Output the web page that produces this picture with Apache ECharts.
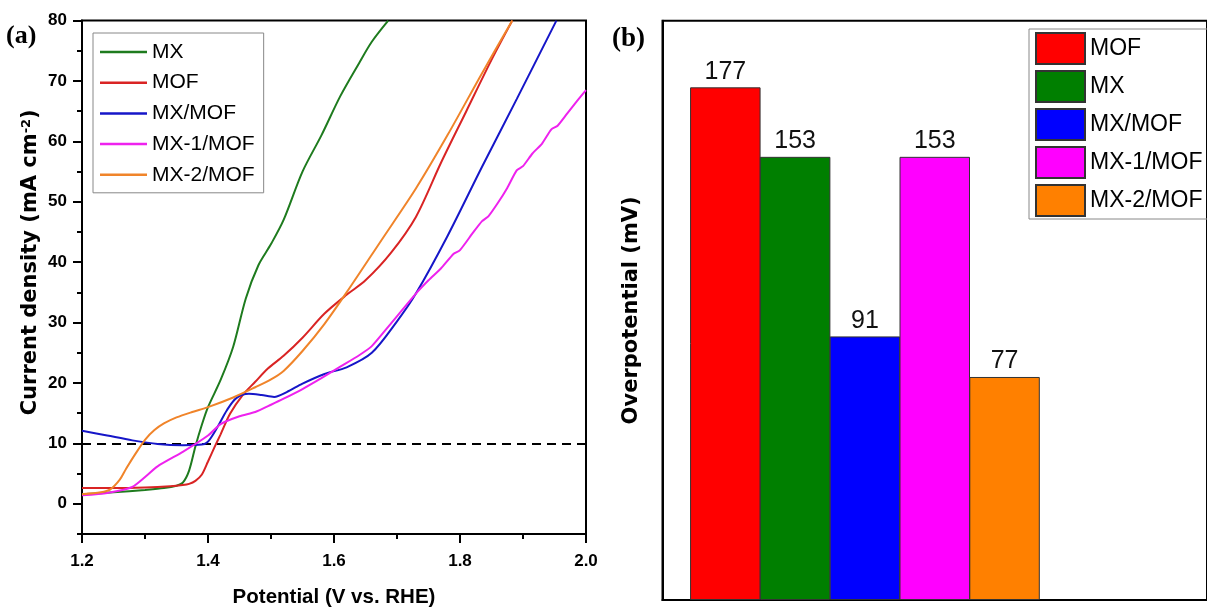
<!DOCTYPE html>
<html>
<head>
<meta charset="utf-8">
<script src="https://cdn.jsdelivr.net/npm/echarts@6/dist/echarts.min.js"></script>
<style>
html,body{margin:0;padding:0;background:#fff;}
#chart{width:1207px;height:613px;}
</style>
</head>
<body>
<div id="chart"></div>
<script>
// ---------- Panel (a): LSV curves ----------
const lineNames = ['MX', 'MOF', 'MX/MOF', 'MX-1/MOF', 'MX-2/MOF'];

const mxV  = [1.20,1.25,1.30,1.33,1.35,1.36,1.37,1.38,1.39,1.40,1.42,1.44,1.46,1.48,1.50,1.52,1.55,1.58,1.61,1.64,1.66,1.686];
const mxJ  = [1.6,1.9,2.3,2.6,3.0,3.5,5.5,9.5,13,16,20.5,26,34,39.5,43,47,55,61,67.5,73,76.5,80];

const mofV = [1.20,1.25,1.30,1.34,1.36,1.37,1.38,1.39,1.40,1.41,1.42,1.435,1.455,1.475,1.495,1.52,1.55,1.585,1.62,1.65,1.69,1.73,1.77,1.81,1.85,1.883];
const mofJ = [2.6,2.6,2.7,2.9,3.1,3.3,3.8,4.8,7.0,9.3,11.5,14.9,18.0,20.2,22.4,24.5,27.5,31.5,34.6,37,41.5,47.5,56.5,65,73.5,80];

const mxMofV = [1.20,1.24,1.28,1.32,1.36,1.39,1.40,1.415,1.43,1.445,1.465,1.485,1.505,1.525,1.55,1.585,1.62,1.66,1.70,1.73,1.78,1.835,1.89,1.953];
const mxMofJ = [12.1,11.3,10.5,9.9,9.7,9.8,10.3,12.7,15.5,17.5,18.2,18.0,17.7,18.5,19.9,21.5,22.6,25,30.2,34.8,44.3,55.8,67,80];

const mx1V = [1.20,1.24,1.28,1.32,1.36,1.40,1.42,1.45,1.475,1.50,1.52,1.55,1.58,1.61,1.64,1.66,1.69,1.73,1.75,1.77,1.79,1.80,1.82,1.835,1.845,1.86,1.875,1.89,1.90,1.915,1.93,1.945,1.955,1.97,1.985,2.0];
const mx1J = [1.4,1.8,2.8,6.2,8.6,11.3,13.2,14.5,15.2,16.4,17.4,19,20.8,22.7,24.6,26.1,29.8,34.8,37.0,39.0,41.4,42.0,44.8,46.8,47.6,49.8,52.3,55.2,55.9,58.0,59.6,62.0,62.6,64.6,66.6,68.5];

const mx2V = [1.20,1.23,1.245,1.26,1.27,1.285,1.30,1.315,1.33,1.35,1.375,1.40,1.44,1.475,1.50,1.52,1.55,1.585,1.62,1.675,1.73,1.78,1.835,1.883];
const mx2J = [1.6,1.9,2.4,4.0,5.8,8.3,10.6,12.2,13.3,14.3,15.2,16.0,17.6,19.3,20.6,22.0,25.3,29.8,35.0,43.6,52.2,61,71.3,80];

const lineColors = ['#1e7b1e', '#d92424', '#1616c8', '#ee22ee', '#f0842a'];
const refCurrent = 10;
const yTickValues = [0, 10, 20, 30, 40, 50, 60, 70, 80];
const yMinorTickValues = [-5, 5, 15, 25, 35, 45, 55, 65, 75];

// ---------- Panel (b): overpotential bars ----------
const barNames  = ['MOF', 'MX', 'MX/MOF', 'MX-1/MOF', 'MX-2/MOF'];
const barValues = [177, 153, 91, 153, 77];
const barColors = ['#ff0000', '#007f00', '#0000ff', '#ff00ff', '#ff8000'];

const zip = (xs, ys) => xs.map((x, i) => [x, ys[i]]);
const lineData = [zip(mxV, mxJ), zip(mofV, mofJ), zip(mxMofV, mxMofJ), zip(mx1V, mx1J), zip(mx2V, mx2J)];

const SANS = '"Liberation Sans", Arial, sans-serif';
const WIDEB = '"DejaVu Sans", Verdana, sans-serif';
const SERIF = '"Liberation Serif", "Times New Roman", serif';

const lineSeries = lineNames.map((n, i) => ({
  name: n,
  type: 'line',
  xAxisIndex: 0,
  yAxisIndex: 0,
  data: lineData[i],
  symbol: 'none',
  showSymbol: false,
  smooth: i === 3 ? 0.2 : 0.3,
  z: 5,
  lineStyle: { color: lineColors[i], width: 2 },
  itemStyle: { color: lineColors[i] },
  markLine: i === 0 ? {
    silent: true,
    symbol: 'none',
    label: { show: false },
    lineStyle: { color: '#000', width: 2, type: [9, 6] },
    data: [{ yAxis: refCurrent }]
  } : undefined
}));

const barSeries = barNames.map((n, i) => ({
  name: 'b:' + n,
  type: 'bar',
  xAxisIndex: 1,
  yAxisIndex: 2,
  stack: 'all',
  barWidth: 70.5,
  data: [[i + 1, barValues[i]]],
  itemStyle: { color: barColors[i], borderColor: '#333', borderWidth: 1 },
  label: {
    show: true,
    position: 'top',
    distance: 3,
    formatter: p => String(p.value[1]),
    fontFamily: SANS,
    fontSize: 25,
    color: '#111'
  }
}));

const axisLineStyle = { color: '#000', width: 2 };
const tickFont = { fontFamily: SANS, fontSize: 17, fontWeight: 'bold', color: '#000' };

const option = {
  animation: false,
  backgroundColor: '#fff',
  title: [
    { text: '(a)', left: 6, top: 23, padding: 0, textStyle: { fontFamily: SERIF, fontWeight: 'bold', fontSize: 26, color: '#000' } },
    { text: '(b)', left: 612, top: 26, padding: 0, textStyle: { fontFamily: SERIF, fontWeight: 'bold', fontSize: 27, color: '#000' } }
  ],
  grid: [
    { left: 82, top: 20.6, width: 504, height: 513.4, show: true, borderColor: '#000', borderWidth: 2, containLabel: false },
    { left: 662.5, top: 20.7, width: 551, height: 579.3, show: true, borderColor: '#000', borderWidth: 2, containLabel: false }
  ],
  legend: [
    {
      data: lineNames,
      orient: 'vertical',
      left: 93, top: 33,
      padding: [7, 9, 6, 7],
      itemWidth: 47, itemHeight: 2.5, itemGap: 6.7,
      icon: 'rect',
      borderColor: '#888', borderWidth: 1,
      textStyle: { fontFamily: SANS, fontSize: 21, color: '#000', lineHeight: 24 },
      selectedMode: false
    },
    {
      data: barNames.map(n => 'b:' + n),
      orient: 'vertical',
      left: 1029, top: 29,
      padding: [3, 30, 2, 6],
      itemWidth: 49, itemHeight: 31, itemGap: 5,
      icon: 'rect',
      borderColor: '#888', borderWidth: 1,
      formatter: name => name.slice(2),
      textStyle: { fontFamily: SANS, fontSize: 23, color: '#000', lineHeight: 31 },
      selectedMode: false
    }
  ],
  xAxis: [
    {
      gridIndex: 0, type: 'value', min: 1.2, max: 2.0, interval: 0.2,
      axisLine: { show: true, onZero: false, lineStyle: axisLineStyle },
      axisTick: { show: true, inside: false, length: 9, lineStyle: axisLineStyle },
      minorTick: { show: true, splitNumber: 2, length: 5, lineStyle: axisLineStyle },
      splitLine: { show: false },
      axisLabel: Object.assign({ margin: 19, formatter: v => v.toFixed(1) }, tickFont),
      name: 'Potential (V vs. RHE)',
      nameLocation: 'middle', nameGap: 53,
      nameTextStyle: { fontFamily: SANS, fontSize: 20.5, fontWeight: 'bold', color: '#000' }
    },
    {
      gridIndex: 1, type: 'value', min: 0.1, max: 7.9,
      axisLine: { show: true, onZero: false, lineStyle: axisLineStyle },
      axisTick: { show: false }, axisLabel: { show: false }, splitLine: { show: false }
    }
  ],
  yAxis: [
    {
      gridIndex: 0, type: 'value', min: -5, max: 80,
      axisLine: { show: true, onZero: false, lineStyle: axisLineStyle },
      axisTick: { show: true, inside: false, length: 9, lineStyle: axisLineStyle, customValues: yTickValues },
      splitLine: { show: false },
      axisLabel: Object.assign({ margin: 15, customValues: yTickValues }, tickFont),
      name: 'Current density (mA cm{sup|-2})',
      nameLocation: 'middle', nameGap: 41,
      nameTextStyle: {
        fontFamily: WIDEB, fontSize: 21, fontWeight: 'bold', color: '#000',
        padding: [0, 0, 0, 30],
        rich: { sup: { fontFamily: WIDEB, fontSize: 13, fontWeight: 'bold', verticalAlign: 'top', padding: [0, 0, 8, 0], color: '#000' } }
      }
    },
    {
      gridIndex: 0, type: 'value', min: -5, max: 80, position: 'left',
      axisLine: { show: false },
      axisTick: { show: true, inside: false, length: 5, lineStyle: axisLineStyle, customValues: yMinorTickValues },
      axisLabel: { show: false }, splitLine: { show: false }
    },
    {
      gridIndex: 1, type: 'value', min: 0, max: 200,
      axisLine: { show: true, onZero: false, lineStyle: axisLineStyle },
      axisTick: { show: false }, axisLabel: { show: false }, splitLine: { show: false },
      name: 'Overpotential (mV)',
      nameLocation: 'middle', nameGap: 20,
      nameTextStyle: { fontFamily: WIDEB, fontSize: 21, fontWeight: 'bold', color: '#000' }
    }
  ],
  series: lineSeries.concat(barSeries)
};

const chart = echarts.init(document.getElementById('chart'), null, { renderer: 'canvas' });
chart.setOption(option);
</script>
</body>
</html>
